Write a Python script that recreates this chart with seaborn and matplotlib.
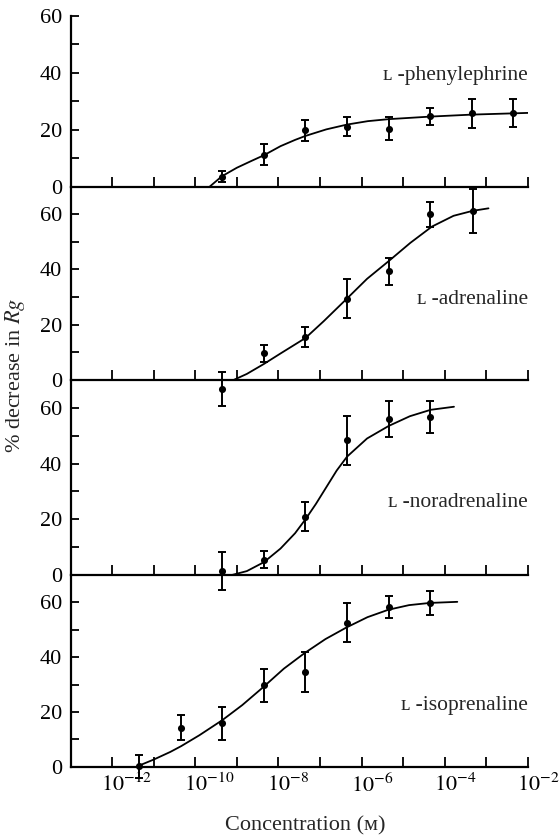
import numpy as np
import pandas as pd
import matplotlib
matplotlib.use("Agg")
import matplotlib.pyplot as plt
import matplotlib.transforms as mtrans
from matplotlib.ticker import FixedLocator, NullFormatter
import seaborn as sns

sns.set_theme(style="ticks")
plt.rcParams["font.family"] = ["Liberation Serif", "DejaVu Serif", "DejaVu Sans"]
plt.rcParams["mathtext.fontset"] = "stix"

# ---------------- data (log10 concentration, % decrease in Rg) ----------------
drug_labels = ["ʟ -phenylephrine", "ʟ -adrenaline", "ʟ -noradrenaline", "ʟ -isoprenaline"]

phe_logc = [-9.35, -8.35, -7.35, -6.35, -5.35, -4.35, -3.35, -2.35]
phe_mean = [3.5, 11.2, 19.8, 21.0, 20.4, 24.7, 25.7, 25.8]
phe_sem = [2.0, 3.8, 3.7, 3.3, 4.2, 2.9, 5.2, 4.9]
phe_fit_logc = [-9.65, -9.36, -9.0, -8.65, -8.35, -7.95, -7.6, -7.35, -6.85, -6.35,
                -5.85, -5.35, -4.35, -3.35, -2.0]
phe_fit = [0.0, 3.6, 6.6, 9.0, 11.0, 14.2, 16.4, 17.8, 20.1, 21.8, 23.0, 23.7, 24.6, 25.3, 25.9]

adr_logc = [-9.35, -8.35, -7.35, -6.35, -5.35, -4.35, -3.33]
adr_mean = [-3.2, 9.6, 15.6, 29.4, 39.3, 60.0, 61.2]
adr_sem = [6.1, 3.0, 3.7, 7.1, 4.8, 4.5, 8.0]
adr_fit_logc = [-9.08, -8.76, -8.35, -7.95, -7.35, -6.91, -6.35, -5.87, -5.35, -4.83,
                -4.31, -3.79, -3.33, -2.95]
adr_fit = [0.0, 2.2, 5.8, 9.6, 15.2, 21.3, 29.5, 36.6, 43.0, 49.6, 55.5, 59.4, 61.2, 62.1]

nor_logc = [-9.35, -8.35, -7.35, -6.35, -5.35, -4.35]
nor_mean = [1.5, 5.5, 21.0, 48.3, 56.0, 56.6]
nor_sem = [6.9, 3.1, 5.3, 8.8, 6.3, 5.8]
nor_fit_logc = [-9.12, -8.76, -8.35, -7.95, -7.6, -7.35, -7.1, -6.85, -6.6, -6.35,
                -5.87, -5.35, -4.84, -4.34, -3.78]
nor_fit = [0.0, 1.4, 4.6, 9.5, 15.0, 20.0, 25.5, 31.5, 37.5, 42.5, 49.0, 53.5, 57.0, 59.3, 60.4]

iso_logc = [-11.35, -10.35, -9.35, -8.35, -7.35, -6.35, -5.35, -4.35]
iso_mean = [0.2, 14.2, 15.8, 29.7, 34.6, 52.6, 58.4, 59.8]
iso_sem = [4.2, 4.5, 6.0, 6.0, 7.2, 7.0, 4.1, 4.3]
iso_fit_logc = [-11.32, -11.0, -10.6, -10.34, -9.9, -9.35, -8.87, -8.37, -7.87, -7.37,
                -6.87, -6.37, -5.86, -5.36, -4.86, -4.36, -3.7]
iso_fit = [0.6, 2.6, 5.4, 7.5, 11.5, 17.0, 22.5, 29.0, 35.8, 41.5, 46.6, 50.8, 54.6,
           57.3, 59.0, 59.8, 60.2]

tick_exponents = list(range(-12, -1))
labelled_exponents = [-12, -10, -8, -6, -4, -2]
y_major = [0, 20, 40, 60]
y_minor = [10, 30, 50]
y_tops = [60, 70, 70, 70]
label_y = [39, 29, 26, 22.5]

panels = [
    (phe_logc, phe_mean, phe_sem, phe_fit_logc, phe_fit),
    (adr_logc, adr_mean, adr_sem, adr_fit_logc, adr_fit),
    (nor_logc, nor_mean, nor_sem, nor_fit_logc, nor_fit),
    (iso_logc, iso_mean, iso_sem, iso_fit_logc, iso_fit),
]

# ---------------- layout ----------------
W, H = 560, 840
fig = plt.figure(figsize=(W / 100, H / 100), dpi=100)
left_px, right_px = 70.5, 528
edges_px = [16, 186.5, 380, 575, 766.7]

FS = 16
axes = []
for i, (lc, mean, sem, flc, fit) in enumerate(panels):
    top, bot = edges_px[i], edges_px[i + 1]
    ax = fig.add_axes([left_px / W, 1 - bot / H, (right_px - left_px) / W, (bot - top) / H])
    ax.set_facecolor("none")
    ax.set_xscale("log")
    ax.set_xlim(1e-13, 1e-2)
    ax.set_ylim(0, y_tops[i])

    pts = pd.DataFrame({"conc": 10.0 ** np.array(lc), "resp": mean, "sem": sem})
    curve = pd.DataFrame({"conc": 10.0 ** np.array(flc), "resp": fit})

    sns.lineplot(data=curve, x="conc", y="resp", ax=ax, color="black",
                 linewidth=1.3, sort=False, estimator=None)
    eb = ax.errorbar(pts["conc"], pts["resp"], yerr=pts["sem"], fmt="none",
                     ecolor="black", elinewidth=1.4, capsize=3.2, capthick=1.4)
    for art in eb.get_children():
        art.set_clip_on(False)
    sns.scatterplot(data=pts, x="conc", y="resp", ax=ax, color="black", s=26,
                    linewidth=0, zorder=4, clip_on=False)

    ax.text(1.0, label_y[i], drug_labels[i], transform=ax.get_yaxis_transform(),
            ha="right", va="center", fontsize=FS - 0.5)

    for side in ["top", "right"]:
        ax.spines[side].set_visible(False)
    for side in ["left", "bottom"]:
        ax.spines[side].set_linewidth(1.6)
        ax.spines[side].set_color("black")

    ax.xaxis.set_major_locator(FixedLocator([10.0 ** e for e in tick_exponents]))
    ax.xaxis.set_minor_locator(FixedLocator([]))
    ax.yaxis.set_major_locator(FixedLocator(y_major))
    ax.yaxis.set_minor_locator(FixedLocator(y_minor))
    ax.tick_params(axis="both", which="both", direction="in", color="black",
                   width=1.3, labelcolor="black")
    ax.tick_params(axis="x", which="major", length=7, pad=5, labelsize=FS)
    ax.tick_params(axis="y", which="major", length=6, pad=6, labelsize=FS)
    ax.tick_params(axis="y", which="minor", length=6)
    ax.set_xlabel("")
    ax.set_ylabel("")
    ax.grid(False)
    axes.append(ax)

for ax in axes[:-1]:
    ax.xaxis.set_major_formatter(NullFormatter())

bottom = axes[-1]
bottom.set_xticklabels([r"$10^{%d}$" % e if e in labelled_exponents else ""
                        for e in tick_exponents])

fig.text(305 / W, 1 - 826 / H, "Concentration (ᴍ)", ha="center", va="center", fontsize=FS)
fig.text(15 / W, 1 - 375 / H, r"% decrease in $Rg$", ha="center", va="center",
         rotation=90, fontsize=FS)

# shift tick labels so the "10" sits under the tick
for lab in bottom.get_xticklabels():
    lab.set_horizontalalignment("left")
    lab.set_transform(lab.get_transform() +
                      mtrans.ScaledTranslation(-8 / 72, 0, fig.dpi_scale_trans))

fig.savefig("out.png", dpi=100)
